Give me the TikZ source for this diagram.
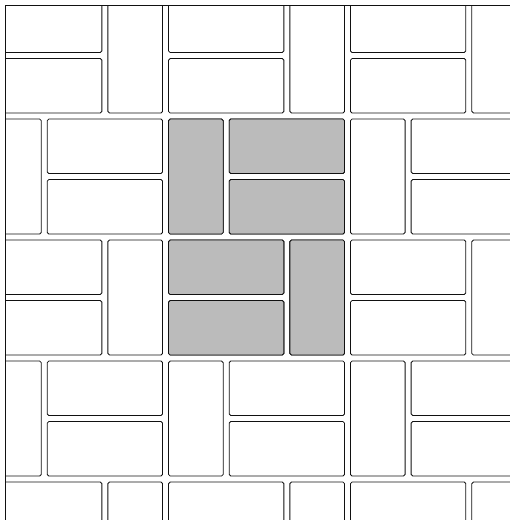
\documentclass[tikz,border=0pt]{standalone}
\usepackage{xcolor}
\definecolor{shade}{HTML}{BBBBBB}
\definecolor{edge}{HTML}{111111}
\tikzset{brickst/.style={draw=edge,line width=0.85pt,rounded corners=1.6pt}}
\newcommand\brk[5]{\filldraw[brickst,fill=#5] ([xshift=3pt,yshift=-3pt]{#1},{#2}) rectangle ([xshift=-3pt,yshift=3pt]{#1+#3},{#2+#4});}
\begin{document}
\begin{tikzpicture}
\useasboundingbox (0,0) rectangle (510pt,-520pt);
\begin{scope}
\clip (5pt,-5pt) rectangle (510pt,-520pt);
\begin{scope}[shift={(-16.4pt,5pt)},x=60.65pt,y=-60.5pt]
% even blocks
\foreach \r in {0,4,8} {
  \foreach \c in {0,3,6} { \brk{\c}{\r}{2}{1}{white} \brk{\c}{\r+1}{2}{1}{white} }
  \foreach \c in {2,5,8} { \brk{\c}{\r}{1}{2}{white} }
}
% odd blocks
\foreach \r in {2,6} {
  \foreach \c in {1,4,7} { \brk{\c}{\r}{2}{1}{white} \brk{\c}{\r+1}{2}{1}{white} }
  \foreach \c in {0,3,6} { \brk{\c}{\r}{1}{2}{white} }
}
% shaded group
\brk{3}{2}{1}{2}{shade}
\brk{4}{2}{2}{1}{shade}
\brk{4}{3}{2}{1}{shade}
\brk{3}{4}{2}{1}{shade}
\brk{3}{5}{2}{1}{shade}
\brk{5}{4}{1}{2}{shade}
\end{scope}
\end{scope}
\draw[draw=edge,line width=0.85pt] (5pt,-520pt) -- (5pt,-5pt) -- (510pt,-5pt);
\end{tikzpicture}
\end{document}
